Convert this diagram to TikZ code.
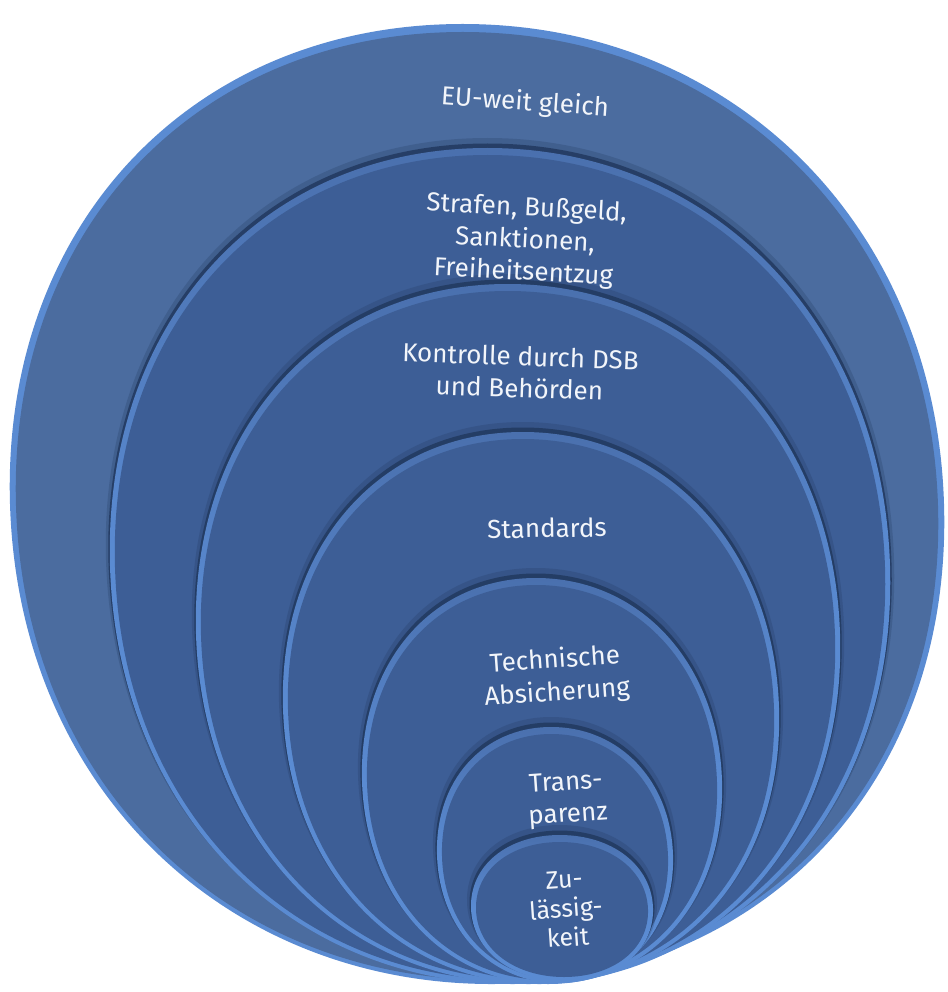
\documentclass[tikz,border=0pt]{standalone}
\usepackage{fontspec}
\setmainfont{Fira Sans}
\definecolor{rimc}{HTML}{5A8BD2}
\definecolor{rimtop}{HTML}{4A70AE}
\definecolor{facea}{HTML}{4B6C9F}
\definecolor{faceb}{HTML}{3D5E96}
\definecolor{shadc}{HTML}{22395F}
\definecolor{txtc}{HTML}{F2F5FA}
\newcommand{\myegg}[5][]{%
  \pgfmathsetmacro\eggx{#2}\pgfmathsetmacro\eggy{#3}%
  \pgfmathsetmacro\egga{#4}\pgfmathsetmacro\eggb{#5}%
  \pgfmathsetmacro\eggta{0.58*\egga}\pgfmathsetmacro\eggtb{0.58*\eggb}%
  \pgfmathsetmacro\eggba{0.56*\egga}\pgfmathsetmacro\eggbb{0.6*\eggb}%
  \path[#1,shift={(\eggx,\eggy)},xslant=-0.03]
    (0,-\eggb) .. controls (\eggta,-\eggb) and (\egga,-\eggtb) .. (\egga,0)
            .. controls (\egga,\eggbb) and (\eggba,\eggb) .. (0,\eggb)
            .. controls (-\eggba,\eggb) and (-\egga,\eggbb) .. (-\egga,0)
            .. controls (-\egga,-\eggtb) and (-\eggta,-\eggb) .. (0,-\eggb) -- cycle;}
% one ring: shadow, rim, face
\newcommand{\myring}[5]{%
  \myegg[fill=shadc,opacity=0.25]{#1}{#2-6}{#3+4}{#4+4}
  \myegg[fill=shadc,opacity=0.85]{#1}{#2-3}{#3+1.5}{#4+1.5}
  \myegg[top color=rimtop,bottom color=rimc,middle color=rimc]{#1}{#2}{#3}{#4}
  \myegg[fill=#5]{#1}{#2+1.5}{#3-5}{#4-5.5}}
\tikzset{
  lbl/.style={text=txtc, align=center, font=\fontsize{26}{32}\selectfont, inner sep=0pt},
}
\begin{document}
\begin{tikzpicture}[x=1pt,y=-1pt]
\useasboundingbox (0,0) rectangle (947,992);
% outer disc
\myegg[fill=rimc]{477}{504}{467}{480}
\myegg[fill=facea]{477}{506}{461}{474}
% inner discs
\myring{500}{566}{390}{418}{faceb}
\myring{518}{634}{322}{350}{faceb}
\myring{531}{708}{248}{276}{faceb}
\myring{542}{781}{180}{203}{faceb}
\myring{555}{855}{118}{128}{faceb}
\myring{562}{908}{91}{73}{faceb}
% labels
\node[lbl, rotate=-4] (eu) at (525,103) {EU-weit gleich};
\node[lbl, rotate=-3] (strafen) at (525,241) {Strafen, Bußgeld,\\Sanktionen,\\Freiheitsentzug};
\node[lbl, rotate=-2] (kontrolle) at (520,372) {Kontrolle durch DSB\\und Behörden};
\node[lbl, rotate=1] (standards) at (547,528) {Standards};
\node[lbl, rotate=4, font=\fontsize{26}{33}\selectfont] (technik) at (556,677) {Technische\\Absicherung};
\node[lbl, rotate=4] (transparenz) at (567,800) {Trans-\\parenz};
\node[lbl, rotate=4, font=\fontsize{25}{29}\selectfont] (zulaessig) at (566,909) {Zu-\\lässig-\\keit};
\end{tikzpicture}
\end{document}
